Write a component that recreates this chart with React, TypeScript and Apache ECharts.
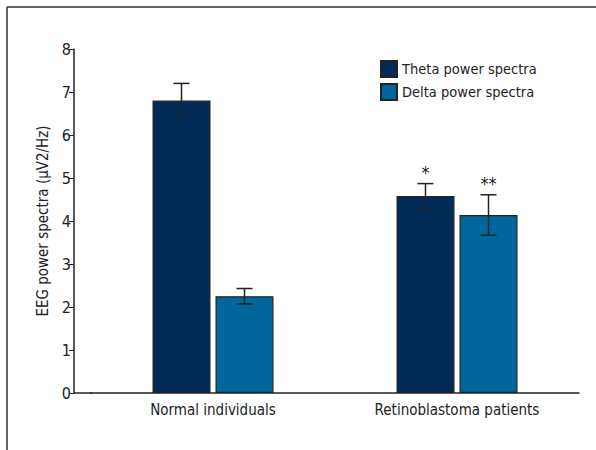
import React, { useEffect, useRef } from "react";
import * as echarts from "echarts";

const categories = ["Normal individuals", "Retinoblastoma patients"];
const seriesNames = ["Theta power spectra", "Delta power spectra"];
const thetaValues = [6.8, 4.58];
const thetaErrors = [0.4, 0.29];
const deltaValues = [2.25, 4.14];
const deltaErrors = [0.18, 0.47];
const thetaMarks = ["", "*"];
const deltaMarks = ["", "**"];
const yTicks = [0, 1, 2, 3, 4, 5, 6, 7, 8];

const FONT = "'Liberation Sans Narrow', 'DejaVu Sans Condensed', sans-serif";
const THETA = "#022a57";
const DELTA = "#00679c";
const BAR_W = 58;
const OFFSET = 31.5;

function errorSeries(values: number[], errors: number[], marks: string[], dir: number) {
  return {
    type: "custom",
    silent: true,
    z: 10,
    encode: { x: 0, y: [1, 2] },
    data: values.map((v, i) => [i, v - errors[i], v + errors[i], marks[i]]),
    renderItem: (params: any, api: any) => {
      const c = api.value(0);
      const lo = api.coord([c, api.value(1)]);
      const hi = api.coord([c, api.value(2)]);
      const x = lo[0] + dir * OFFSET;
      const cap = 8;
      const style = { stroke: "#222", lineWidth: 1.5 };
      const children: any[] = [
        { type: "line", shape: { x1: x, y1: lo[1], x2: x, y2: hi[1] }, style },
        { type: "line", shape: { x1: x - cap, y1: lo[1], x2: x + cap, y2: lo[1] }, style },
        { type: "line", shape: { x1: x - cap, y1: hi[1], x2: x + cap, y2: hi[1] }, style },
      ];
      const mark = marks[params.dataIndex];
      if (mark) {
        children.push({
          type: "text",
          style: {
            text: mark,
            x,
            y: hi[1] - 2,
            align: "center",
            verticalAlign: "bottom",
            fontSize: 18,
            fontFamily: FONT,
            fill: "#222",
          },
        });
      }
      return { type: "group", children };
    },
  };
}

export default function App() {
  const ref = useRef<HTMLDivElement>(null);
  useEffect(() => {
    const chart = echarts.init(ref.current!, null, { renderer: "svg" });
    chart.setOption({
      animation: false,
      backgroundColor: "#fff",
      textStyle: { fontFamily: FONT },
      grid: { left: 91, right: 17, top: 49, bottom: 57 },
      legend: {
        orient: "vertical",
        left: 375,
        top: 55,
        itemWidth: 16,
        itemHeight: 16,
        itemGap: 5,
        icon: "rect",
        data: seriesNames,
        textStyle: { fontSize: 14.5, color: "#222", fontFamily: FONT },
      },
      xAxis: {
        type: "category",
        data: categories,
        axisLine: { lineStyle: { color: "#222", width: 1.5 } },
        axisTick: { show: false },
        axisLabel: { fontSize: 15, color: "#222", margin: 9, fontFamily: FONT },
      },
      yAxis: {
        type: "value",
        min: 0,
        max: 8,
        interval: 1,
        offset: 17,
        name: "EEG power spectra (\u03bcV2/Hz)",
        nameLocation: "middle",
        nameGap: 23,
        nameTextStyle: { fontSize: 15, color: "#222", fontFamily: FONT },
        splitLine: { show: false },
        axisLine: { show: true, lineStyle: { color: "#222", width: 1.5 } },
        axisTick: { show: true, length: 5, lineStyle: { color: "#222" } },
        axisLabel: {
          fontSize: 16,
          color: "#222",
          margin: 3,
          fontFamily: FONT,
          formatter: (v: number) => (yTicks.includes(v) ? String(v) : ""),
        },
      },
      series: [
        {
          name: seriesNames[0],
          type: "bar",
          data: thetaValues,
          barWidth: BAR_W,
          barGap: "8.6%",
          itemStyle: { color: THETA, borderColor: "#222", borderWidth: 1.2 },
        },
        {
          name: seriesNames[1],
          type: "bar",
          data: deltaValues,
          barWidth: BAR_W,
          itemStyle: { color: DELTA, borderColor: "#222", borderWidth: 1.2 },
        },
        errorSeries(thetaValues, thetaErrors, thetaMarks, -1),
        errorSeries(deltaValues, deltaErrors, deltaMarks, 1),
      ],
      graphic: [
        { type: "line", shape: { x1: 74, y1: 393, x2: 92, y2: 393 }, style: { stroke: "#222", lineWidth: 1.5 } },
        { type: "line", shape: { x1: 7, y1: 7, x2: 596, y2: 7 }, style: { stroke: "#333", lineWidth: 1.5 } },
        { type: "line", shape: { x1: 7, y1: 7, x2: 7, y2: 450 }, style: { stroke: "#333", lineWidth: 1.5 } },
      ],
    });
    return () => chart.dispose();
  }, []);
  return (
    <div
      ref={ref}
      style={{ position: "fixed", left: 0, top: 0, width: 596, height: 450 }}
    />
  );
}
